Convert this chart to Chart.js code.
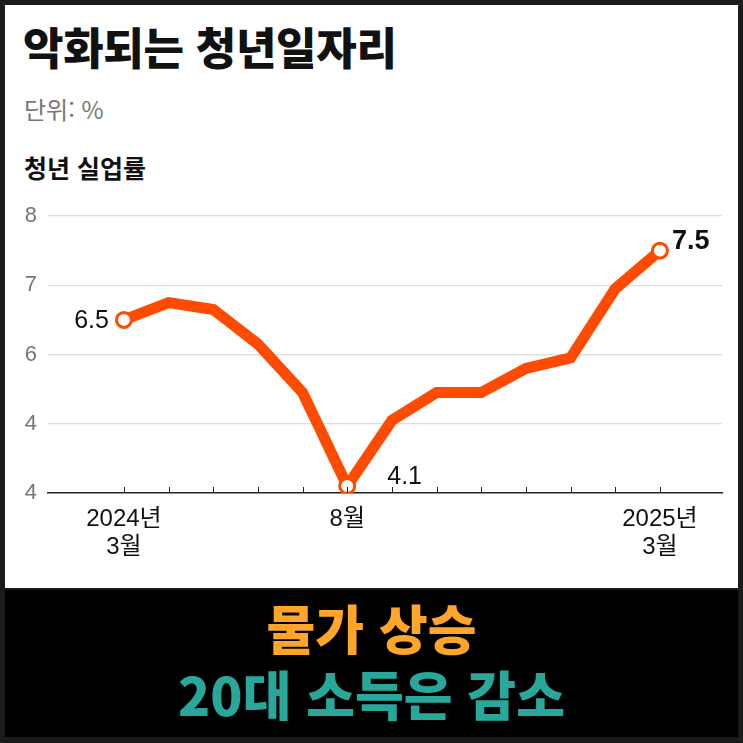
<!DOCTYPE html>
<html lang="ko">
<head>
<meta charset="utf-8">
<title>악화되는 청년일자리</title>
<script src="https://cdn.jsdelivr.net/npm/chart.js@4.4.1/dist/chart.umd.min.js"></script>
<style>
  body { margin: 0; width: 743px; height: 743px; overflow: hidden; position: relative; background: #1b1b1b; font-family: 'Noto Sans CJK KR', sans-serif; }
  #panel { position: absolute; left: 5px; top: 5px; width: 733px; height: 583px; background: #fff; }
  #title { position: absolute; left: 23px; top: 18px; margin: 0; font-size: 44px; line-height: 56px; font-weight: 900; letter-spacing: -0.3px; color: #111; }
  #unit { position: absolute; left: 24px; top: 92px; font-size: 24px; line-height: 34px; color: #777; }
  #series { position: absolute; left: 24px; top: 150px; font-size: 25px; line-height: 34px; font-weight: 700; color: #111; }
  #chartBox { position: absolute; left: 0; top: 190px; }
  #band { position: absolute; left: 5px; top: 590px; width: 733px; height: 147px; background: #000; text-align: center; font-weight: 900; font-size: 53px; line-height: 66px; }
  #band .l1 { color: #ffa52a; margin-top: 4px; }
  #band .l2 { color: #2aa79b; }
</style>
</head>
<body>
<div id="panel"></div>
<h1 id="title">악화되는 청년일자리</h1>
<div id="unit">단위: %</div>
<div id="series">청년 실업률</div>
<div id="chartBox"><canvas id="youthChart" width="743" height="400"></canvas></div>
<div id="band">
  <div class="l1">물가 상승</div>
  <div class="l2">20대 소득은 감소</div>
</div>
<script>
////////////////////////datos////////////////////
const months = ['2024.3', '2024.4', '2024.5', '2024.6', '2024.7', '2024.8', '2024.9',
                '2024.10', '2024.11', '2024.12', '2025.1', '2025.2', '2025.3'];
const rates = [6.5, 6.75, 6.65, 6.15, 5.45, 4.1, 5.05, 5.45, 5.45, 5.8, 5.95, 6.95, 7.5];
const xTickLabels = [['2024년', '3월'], '', '', '', '', '8월', '', '', '', '', '', '', ['2025년', '3월']];
const yTickValues = [4, 5, 6, 7, 8];
const yTickLabels = ['4', '4', '6', '7', '8'];
const pointLabels = ['6.5', '', '', '', '', '4.1', '', '', '', '', '', '', '7.5'];

const lineColor = '#ff4b00';
const numFont = "'Liberation Sans', 'Noto Sans CJK KR', sans-serif";

////////////////////////marcas del eje x (hacia arriba)////////////////////
const tickMarks = {
  id: 'tickMarks',
  afterDraw(chart) {
    const ctx = chart.ctx;
    const x = chart.scales.x;
    const bottom = chart.chartArea.bottom;
    ctx.save();
    ctx.strokeStyle = '#222';
    ctx.lineWidth = 1;
    months.forEach(function (m, i) {
      const px = Math.round(x.getPixelForValue(i)) + 0.5;
      ctx.beginPath();
      ctx.moveTo(px, bottom);
      ctx.lineTo(px, bottom - 6);
      ctx.stroke();
    });
    ctx.restore();
  }
};

////////////////////////etiquetas de valores////////////////////
const valueLabels = {
  id: 'valueLabels',
  afterDatasetsDraw(chart) {
    const ctx = chart.ctx;
    const pts = chart.getDatasetMeta(0).data;
    ctx.save();
    ctx.fillStyle = '#111';
    ctx.textBaseline = 'middle';
    pointLabels.forEach(function (txt, i) {
      if (!txt) return;
      const p = pts[i];
      if (i === 0) {
        ctx.font = '500 25px ' + numFont;
        ctx.textAlign = 'right';
        ctx.fillText(txt, p.x - 15, p.y + 1);
      } else if (i === pts.length - 1) {
        ctx.font = 'bold 27px ' + numFont;
        ctx.textAlign = 'left';
        ctx.fillText(txt, p.x + 12, p.y - 9);
      } else {
        ctx.font = '500 25px ' + numFont;
        ctx.textAlign = 'left';
        ctx.fillText(txt, p.x + 40, p.y - 9);
      }
    });
    ctx.restore();
  }
};

document.addEventListener('DOMContentLoaded', function () {
  const canvas = document.getElementById('youthChart').getContext('2d');
  const chart = new Chart(canvas, {
    type: 'line',
    data: {
      datasets: [{
        label: '청년 실업률',
        data: rates.map(function (v, i) { return { x: i, y: v }; }),
        borderColor: lineColor,
        borderWidth: 11,
        borderJoinStyle: 'miter',
        borderCapStyle: 'butt',
        tension: 0,
        pointRadius: function (c) { return pointLabels[c.dataIndex] ? 7.5 : 0; },
        pointBorderWidth: 3,
        pointBackgroundColor: '#fff',
        pointBorderColor: lineColor
      }]
    },
    options: {
      responsive: false,
      maintainAspectRatio: false,
      animation: false,
      layout: { padding: { left: 0, right: 21, top: 26, bottom: 0 } },
      plugins: {
        legend: { display: false },
        tooltip: { enabled: false },
        title: { display: false }
      },
      scales: {
        x: {
          type: 'linear',
          min: -1.7,
          max: 13.39,
          afterBuildTicks: function (scale) {
            scale.ticks = months.map(function (m, i) { return { value: i }; });
          },
          afterFit: function (scale) { scale.height = 97; },
          grid: { display: false, drawTicks: false },
          border: { display: true, color: '#222', width: 1.5 },
          ticks: {
            autoSkip: false,
            maxRotation: 0,
            padding: 13,
            color: '#111',
            font: { family: numFont, size: 24, lineHeight: 1.15 },
            callback: function (value, index) { return xTickLabels[index]; }
          }
        },
        y: {
          min: 4,
          max: 8,
          afterBuildTicks: function (scale) {
            scale.ticks = yTickValues.map(function (v) { return { value: v }; });
          },
          afterFit: function (scale) { scale.width = 48; },
          grid: {
            drawTicks: false,
            color: function (c) { return c.tick && c.tick.value === 4 ? 'rgba(0,0,0,0)' : '#dcdcdc'; },
            lineWidth: 1.2
          },
          border: { display: false },
          ticks: {
            padding: 11,
            color: '#777',
            font: { family: numFont, size: 22 },
            callback: function (value, index) { return yTickLabels[index]; }
          }
        }
      }
    },
    plugins: [tickMarks, valueLabels]
  });
});
</script>
</body>
</html>
